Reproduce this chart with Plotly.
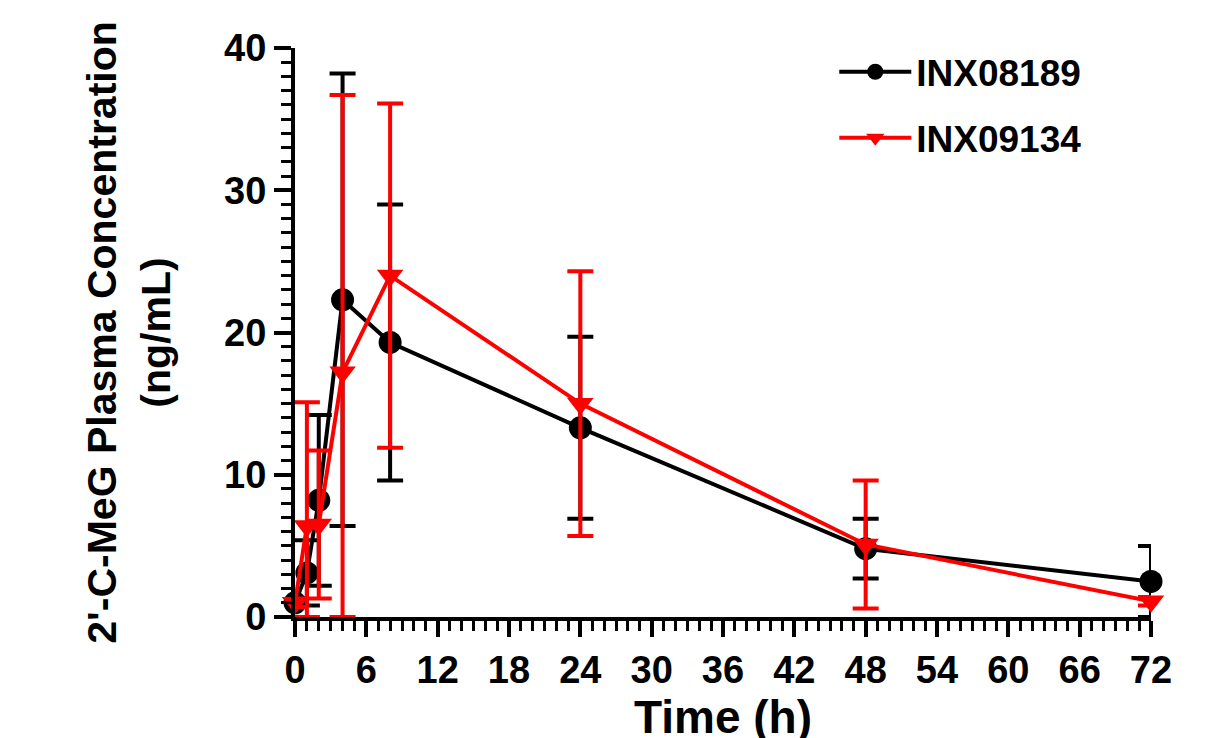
import plotly.graph_objects as go

time_h = [0, 1, 2, 4, 8, 24, 48, 72]
inx08189_mean = [1.0, 3.1, 8.2, 22.3, 19.3, 13.3, 4.8, 2.5]
inx08189_sd = [0.3, 2.3, 6.0, 15.9, 9.7, 6.4, 2.1, 2.5]
inx09134_mean = [1.0, 6.4, 6.5, 17.2, 24.0, 15.0, 5.1, 1.1]
inx09134_sd = [0.3, 8.7, 5.2, 19.5, 12.1, 9.3, 4.5, 0.3]

x_ticks = list(range(0, 73, 6))
y_ticks = [0, 10, 20, 30, 40]

FONT = "Liberation Sans, Arial, sans-serif"


def lower(mean, sd):
    return [min(m, s) for m, s in zip(mean, sd)]


fig = go.Figure()
series = [
    ("INX08189", inx08189_mean, inx08189_sd, "#000000", "circle"),
    ("INX09134", inx09134_mean, inx09134_sd, "#FF0000", "triangle-down"),
]
for name, mean, sd, color, symbol in series:
    fig.add_trace(go.Scatter(
        x=time_h, y=mean, name=name, mode="lines+markers",
        legendgroup=name,
        line=dict(color=color, width=4),
        marker=dict(color=color, size=23, symbol=symbol),
        error_y=dict(type="data", symmetric=False, array=sd,
                     arrayminus=lower(mean, sd), color=color,
                     thickness=4, width=13),
        cliponaxis=False,
    ))

fig.update_layout(
    width=1211, height=738,
    margin=dict(l=287, r=68, t=40, b=129),
    plot_bgcolor="white", paper_bgcolor="white",
    font=dict(family=FONT, size=38, color="black"),
    showlegend=True,
    legend=dict(x=0.63, y=1.012, xanchor="left", yanchor="top",
                font=dict(size=37, family=FONT, weight="bold"),
                bgcolor="rgba(0,0,0,0)", traceorder="grouped",
                tracegroupgap=15, itemwidth=72),
)
fig.update_xaxes(
    range=[0, 72], tickvals=x_ticks, ticktext=[str(v) for v in x_ticks],
    showgrid=False, zeroline=False, showline=True, linecolor="black",
    linewidth=4, ticks="outside", ticklen=16, tickwidth=4, tickcolor="black",
    tickfont=dict(size=38, family=FONT, weight="bold"),
    minor=dict(dtick=1, ticks="outside", ticklen=10, tickwidth=3,
               tickcolor="black", showgrid=False),
    title=dict(text="Time (h)", font=dict(size=46, family=FONT, weight="bold"),
               standoff=10),
)
fig.update_yaxes(
    range=[0, 40], tickvals=y_ticks, ticktext=[str(v) for v in y_ticks],
    showgrid=False, zeroline=False, showline=True, linecolor="black",
    linewidth=4, ticks="outside", ticklen=17, tickwidth=4, tickcolor="black",
    tickfont=dict(size=38, family=FONT, weight="bold"),
    minor=dict(dtick=1, ticks="outside", ticklen=10, tickwidth=3,
               tickcolor="black", showgrid=False),
    title=dict(text="2'-C-MeG Plasma Concentration<br>(ng/mL)",
               font=dict(size=41, family=FONT, weight="bold"), standoff=42),
)

fig.write_html("out.html")
